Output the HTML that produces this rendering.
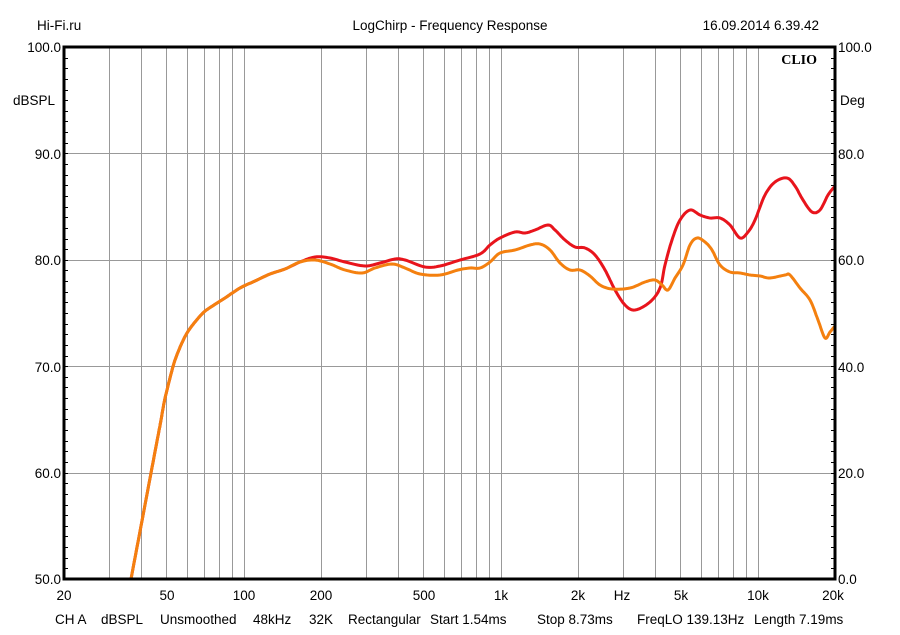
<!DOCTYPE html>
<html><head><style>
body{margin:0;background:#fff;width:900px;height:630px;overflow:hidden}
text{font-family:"Liberation Sans",sans-serif;font-size:13.5px;fill:#000}
</style></head><body>
<svg id="s" width="900" height="630" xmlns="http://www.w3.org/2000/svg">
<g id="grid" stroke="#999" stroke-width="1"></g>
<g id="ticks" stroke="#000" stroke-width="1"></g>
<polyline id="rd" fill="none" stroke="#e8141c" stroke-width="3" stroke-linejoin="round" stroke-linecap="round"/>
<polyline id="or" fill="none" stroke="#f4800f" stroke-width="3" stroke-linejoin="round" stroke-linecap="round"/>
<rect x="64" y="47" width="771" height="532" fill="none" stroke="#000" stroke-width="3"/>
<text x="37" y="30">Hi-Fi.ru</text>
<text x="450" y="30" text-anchor="middle">LogChirp - Frequency Response</text>
<text x="819" y="30" text-anchor="end">16.09.2014 6.39.42</text>
<text x="817" y="64" text-anchor="end" style="font-family:'Liberation Serif',serif;font-weight:bold;font-size:14px">CLIO</text>
<g text-anchor="end">
<text x="61" y="52">100.0</text><text x="55" y="105">dBSPL</text><text x="61" y="159">90.0</text><text x="61" y="265">80.0</text><text x="61" y="372">70.0</text><text x="61" y="478">60.0</text><text x="61" y="584">50.0</text></g>
<g>
<text x="838" y="52">100.0</text><text x="840" y="105">Deg</text><text x="838" y="159">80.0</text><text x="838" y="265">60.0</text><text x="838" y="372">40.0</text><text x="838" y="478">20.0</text><text x="838" y="584">0.0</text></g>
<g text-anchor="middle">
<text x="64" y="600">20</text><text x="167" y="600">50</text><text x="244" y="600">100</text><text x="321" y="600">200</text><text x="424" y="600">500</text><text x="501" y="600">1k</text><text x="578" y="600">2k</text><text x="622" y="600">Hz</text><text x="681" y="600">5k</text><text x="758" y="600">10k</text><text x="833" y="600">20k</text></g>
<g>
<text x="55" y="624">CH A</text><text x="101" y="624">dBSPL</text><text x="160" y="624">Unsmoothed</text><text x="253" y="624">48kHz</text><text x="309" y="624">32K</text><text x="348" y="624">Rectangular</text><text x="430" y="624">Start 1.54ms</text><text x="537" y="624">Stop 8.73ms</text><text x="637" y="624">FreqLO 139.13Hz</text><text x="754" y="624">Length 7.19ms</text></g>
</svg>
<script>
var g=document.getElementById('grid'),t=document.getElementById('ticks'),ns='http://www.w3.org/2000/svg';
function X(f){return 64+257*Math.log10(f/20);}
function ln(par,x1,y1,x2,y2){var l=document.createElementNS(ns,'line');l.setAttribute('x1',x1);l.setAttribute('x2',x2);l.setAttribute('y1',y1);l.setAttribute('y2',y2);par.appendChild(l);}
var fs=[];for(var f=30;f<100;f+=10)fs.push(f);for(var f=100;f<1000;f+=100)fs.push(f);for(var f=1000;f<10000;f+=1000)fs.push(f);fs.push(10000);
fs.forEach(function(f){var x=Math.round(X(f))+0.5;ln(g,x,47,x,579);});
[153.4,259.8,366.2,472.6].forEach(function(y){var yy=Math.round(y)+0.5;ln(g,64,yy,835,yy);});
for(var i=1;i<50;i++){var y=Math.round(47+i*10.64)+0.5;ln(t,64,y,68,y);ln(t,831,y,835,y);}
var common=[[131,579],[141,526],[151,473],[158,436],[161,420],[164,403],[167,390],[171,374],[175,360],[181,345],[187,333],[195,322],[204,312],[214,305],[225,298],[240,288],[255,281],[270,274],[285,269],[300,262]];
var red=common.concat([[315,257],[330,258],[345,262],[365,266],[380,263],[395,259],[405,260],[425,267],[440,266],[460,260],[480,254],[490,245],[500,238],[515,232],[525,233],[535,230],[548,225],[555,230],[565,240],[575,247],[585,248],[595,255],[605,270],[615,290],[625,305],[635,310],[650,302],[660,288],[665,265],[672,240],[680,220],[690,210],[700,215],[710,218],[720,218],[730,225],[740,238],[748,232],[755,220],[765,195],[775,182],[787,178],[795,186],[803,200],[812,212],[820,210],[828,195],[835,186]]);
var org=common.concat([[315,260],[330,264],[345,270],[362,273],[375,268],[392,264],[405,268],[420,274],[440,275],[458,270],[470,268],[480,268],[490,262],[500,253],[515,250],[530,245],[540,244],[550,250],[560,263],[570,270],[580,270],[590,276],[600,285],[612,289],[630,288],[645,282],[655,280],[662,285],[668,290],[675,278],[683,265],[690,245],[697,238],[705,242],[712,250],[720,265],[730,272],[740,273],[750,275],[760,276],[770,278],[785,275],[790,275],[800,288],[810,300],[818,320],[825,338],[830,332],[835,326]]);
function smooth(p){var o=[];for(var i=0;i<p.length-1;i++){var p0=p[Math.max(0,i-1)],p1=p[i],p2=p[i+1],p3=p[Math.min(p.length-1,i+2)];for(var k=0;k<8;k++){var s=k/8,s2=s*s,s3=s2*s;var c=function(a,b,c_,d){return 0.5*((2*b)+(-a+c_)*s+(2*a-5*b+4*c_-d)*s2+(-a+3*b-3*c_+d)*s3);};o.push(c(p0[0],p1[0],p2[0],p3[0]).toFixed(1)+','+c(p0[1],p1[1],p2[1],p3[1]).toFixed(1));}}o.push(p[p.length-1].join(','));return o.join(' ');}
document.getElementById('rd').setAttribute('points',smooth(red));
document.getElementById('or').setAttribute('points',smooth(org));
</script>
</body></html>
